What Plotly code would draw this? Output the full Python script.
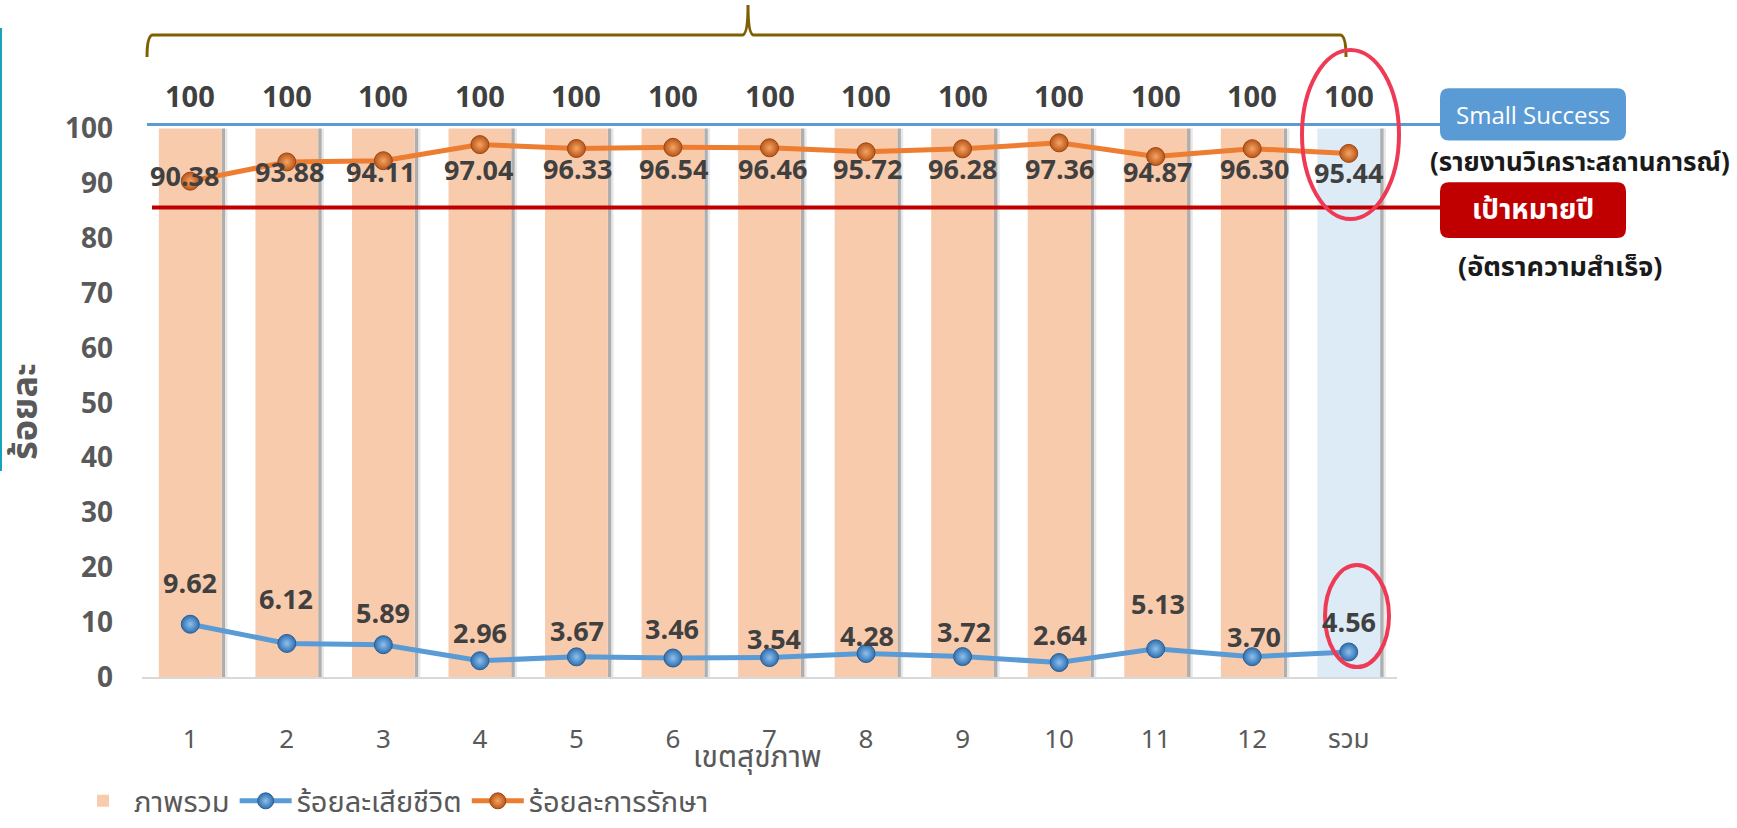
import plotly.graph_objects as go

# ---- data -------------------------------------------------------------
regions = ["1", "2", "3", "4", "5", "6", "7", "8", "9", "10", "11", "12", "รวม"]
overall = [100] * 13
treated = [90.38, 93.88, 94.11, 97.04, 96.33, 96.54, 96.46, 95.72, 96.28, 97.36, 94.87, 96.30, 95.44]
died = [9.62, 6.12, 5.89, 2.96, 3.67, 3.46, 3.54, 4.28, 3.72, 2.64, 5.13, 3.70, 4.56]
target_rate = 85.6
small_success_rate = 100.7

# label nudges (pixels) for the two line series
treat_dy = [6, -10, -11, -25, -20, -21, -21, -17, -20, -26, -15, -20, -19]
treat_dx = [-6, 3, -3, -1, 1, 1, 3, 1, 0, 0, 2, 2, 0]
died_dy = [42, 45, 32, 28, 26, 30, 19, 18, 25, 28, 45, 20, 30]
died_dx = [0, -1, 0, 0, 1, -1, 4, 1, 1, 1, 2, 2, 0]

# ---- geometry ---------------------------------------------------------
W, H = 1737, 828
ML, MR, MT, MB = 142, 340, 0, 151
PW, PH = W - ML - MR, H - MT - MB
YMAX = 123.4
PX_PER_Y = PH / YMAX

def px_x(px):
    return (px - ML) / PW

def px_y(px):
    return (H - MB - px) / PX_PER_Y

THAI = "Noto Sans Thai, Loma, Garuda, Tahoma, DejaVu Sans, sans-serif"
NUM = "Open Sans, Noto Sans, sans-serif"
NARROW = "Liberation Sans Narrow, Arial Narrow, " + THAI
GREY = "#595959"
DARK = "#404040"

bar_colors = ["#F8CBAD"] * 12 + ["#DDEBF7"]

fig = go.Figure()

# soft shadow on the right side of each column
fig.add_trace(go.Bar(x=regions, y=overall, width=0.035, offset=0.325,
                     marker=dict(color="rgba(110,110,110,0.55)", line=dict(width=0)),
                     showlegend=False, hoverinfo="skip"))
fig.add_trace(go.Bar(x=regions, y=overall, width=0.03, offset=0.355,
                     marker=dict(color="rgba(150,150,150,0.22)", line=dict(width=0)),
                     showlegend=False, hoverinfo="skip"))
fig.add_trace(go.Bar(x=regions, y=overall, width=0.65, name="ภาพรวม",
                     marker=dict(color=bar_colors, line=dict(width=0))))

fig.add_trace(go.Scatter(
    x=regions, y=died, mode="lines+markers", name="ร้อยละเสียชีวิต",
    line=dict(color="#5B9BD5", width=5),
    marker=dict(size=18, color="#2F6FAE", line=dict(color="#2A5F95", width=1),
                gradient=dict(type="radial", color="#8EC0EE"))))
fig.add_trace(go.Scatter(
    x=regions, y=treated, mode="lines+markers", name="ร้อยละการรักษา",
    line=dict(color="#ED7D31", width=5),
    marker=dict(size=18, color="#B8561A", line=dict(color="#9C4612", width=1),
                gradient=dict(type="radial", color="#F7A463"))))


def label(**kw):
    base = dict(showarrow=False, xanchor="center", yanchor="middle")
    base.update(kw)
    return base


ann = []
for i in range(len(regions)):
    ann.append(label(x=i, y=overall[i], yshift=33, text=f"<b>{overall[i]}</b>",
                     font=dict(family=NUM, size=29, color=DARK)))
    ann.append(label(x=i, y=treated[i], yshift=treat_dy[i], xshift=treat_dx[i],
                     text=f"<b>{treated[i]:.2f}</b>",
                     font=dict(family=NUM, size=27, color=DARK)))
    ann.append(label(x=i, y=died[i], yshift=died_dy[i], xshift=died_dx[i],
                     text=f"<b>{died[i]:.2f}</b>",
                     font=dict(family=NUM, size=27, color=DARK)))

bx0, bx1 = px_x(1440), px_x(1626)

# side call-outs and axis titles
ann += [
    label(xref="paper", yref="y", x=(bx0 + bx1) / 2, y=102.5,
          text="Small Success", font=dict(family=NUM, size=24, color="white")),
    label(xref="paper", yref="y", x=px_x(1580), y=px_y(163),
          text="<b>(รายงานวิเคราะสถานการณ์)</b>",
          font=dict(family=THAI, size=26, color="#1a1a1a")),
    label(xref="paper", yref="y", x=(bx0 + bx1) / 2, y=85.1,
          text="<b>เป้าหมายปี</b>", font=dict(family=THAI, size=28, color="white")),
    label(xref="paper", yref="y", x=px_x(1560), y=px_y(267),
          text="<b>(อัตราความสำเร็จ)</b>",
          font=dict(family=THAI, size=27, color="#1a1a1a")),
    label(xref="paper", yref="paper", x=px_x(757), y=(H - MB - 758) / PH,
          text="เขตสุขภาพ", font=dict(family=NARROW, size=30, color=GREY)),
    label(xref="paper", yref="paper", x=px_x(26), y=(H - MB - 412) / PH,
          text="<b>ร้อยละ</b>", textangle=-90,
          font=dict(family=THAI, size=36, color=GREY)),
]


def rounded_box(x0, x1, y0, y1, r_px=9):
    rx = r_px / PW
    ry = r_px / PX_PER_Y
    return (f"M{x0+rx},{y1} L{x1-rx},{y1} Q{x1},{y1} {x1},{y1-ry} "
            f"L{x1},{y0+ry} Q{x1},{y0} {x1-rx},{y0} L{x0+rx},{y0} "
            f"Q{x0},{y0} {x0},{y0+ry} L{x0},{y1-ry} Q{x0},{y1} {x0+rx},{y1} Z")


bl, br, bc = px_x(147), px_x(1346), px_x(748)
d = 6 / PW

shapes = [
    # small-success and yearly-target reference lines
    dict(type="line", xref="paper", yref="y", x0=px_x(147), x1=bx0,
         y0=small_success_rate, y1=small_success_rate,
         line=dict(color="#5B9BD5", width=3)),
    dict(type="line", xref="paper", yref="y", x0=px_x(152), x1=bx0,
         y0=target_rate, y1=target_rate, line=dict(color="#C00000", width=4)),
    dict(type="path", xref="paper", yref="y", path=rounded_box(bx0, bx1, 97.8, 107.3),
         fillcolor="#5B9BD5", line=dict(width=0)),
    dict(type="path", xref="paper", yref="y", path=rounded_box(bx0, bx1, 80.0, 90.2),
         fillcolor="#C00000", line=dict(width=0)),
    # brace over the regions
    dict(type="path", xref="paper", yref="y",
         path=(f"M{bl},113 Q{bl},117 {bl+d},117 L{bc-d},117 Q{bc},117 {bc},122.5 "
               f"Q{bc},117 {bc+d},117 L{br-d},117 Q{br},117 {br},113"),
         line=dict(color="#7F6000", width=3)),
    # highlight rings on the total column
    dict(type="circle", xref="paper", yref="y", x0=px_x(1302), x1=px_x(1399),
         y0=px_y(219), y1=px_y(50), line=dict(color="#EE3A55", width=4)),
    dict(type="circle", xref="paper", yref="y", x0=px_x(1325), x1=px_x(1389),
         y0=px_y(667), y1=px_y(565), line=dict(color="#EE3A55", width=4)),
    # accent rule at the left edge
    dict(type="line", xref="paper", yref="y", x0=px_x(1), x1=px_x(1),
         y0=px_y(28), y1=px_y(471), line=dict(color="#1AA3B8", width=2)),
]

fig.update_layout(
    width=W, height=H, margin=dict(l=ML, r=MR, t=MT, b=MB, autoexpand=False),
    paper_bgcolor="white", plot_bgcolor="white",
    barmode="overlay", bargap=0.35,
    annotations=ann, shapes=shapes,
    legend=dict(orientation="h", x=72 / W, xanchor="left", xref="container",
                y=1 - 801 / H, yanchor="middle", yref="container",
                font=dict(family=NARROW, size=29, color=GREY),
                itemwidth=52, tracegroupgap=0),
    xaxis=dict(type="category", categoryorder="array", categoryarray=regions,
               range=[-0.5, 12.5], showgrid=False, zeroline=False, automargin=False,
               showline=True, linecolor="#D9D9D9", linewidth=2, ticks="",
               ticklabelstandoff=38,
               tickfont=dict(family=NARROW, size=26, color=GREY)),
    yaxis=dict(range=[0, YMAX], tickvals=list(range(0, 101, 10)),
               ticktext=[f"<b>{v}</b>" for v in range(0, 101, 10)],
               showgrid=False, zeroline=False, showline=False, ticks="",
               ticklabelstandoff=28, automargin=False,
               tickfont=dict(family=NUM, size=28, color=GREY)),
)

fig.write_html("out.html")
